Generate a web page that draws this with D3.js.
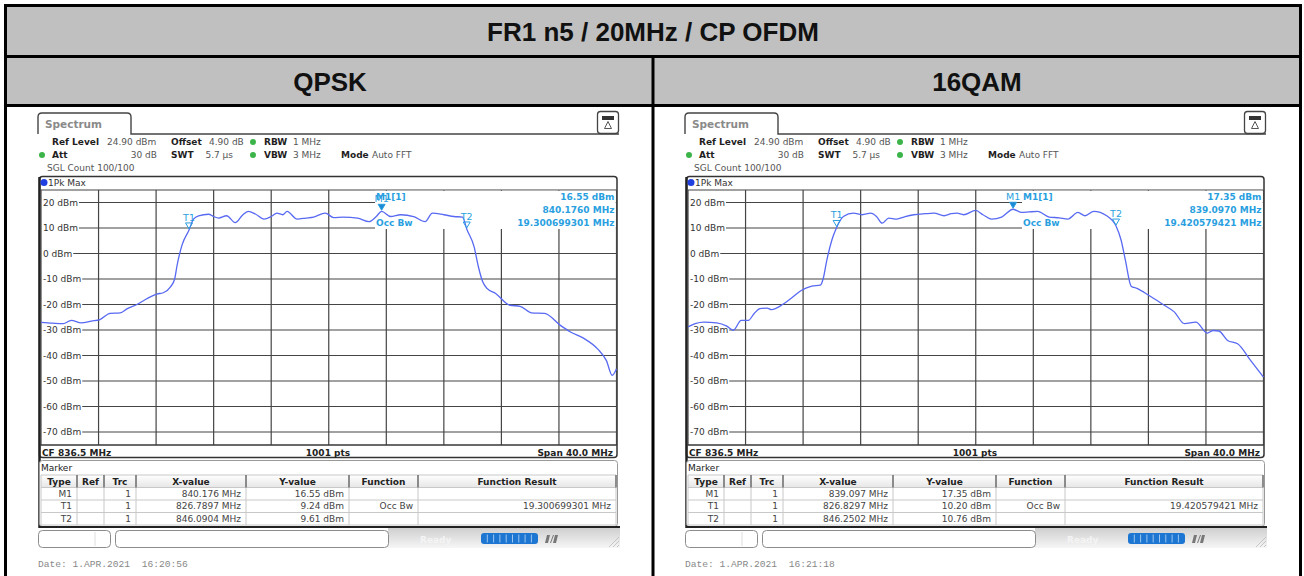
<!DOCTYPE html>
<html>
<head>
<meta charset="utf-8">
<script src="https://cdn.jsdelivr.net/npm/d3@7"></script>
<style>
body { margin: 0; background: #fff; }
svg { display: block; font-family: "DejaVu Sans", sans-serif; }
</style>
</head>
<body>
<script>
// ---- chart data ----
var title = "FR1 n5 / 20MHz / CP OFDM";
var panelNames = ["QPSK", "16QAM"];

var refLevel = 24.9;          // dBm, top of the grid
var centerFreq = 836.5;       // MHz
var spanFreq = 40.0;          // MHz
var yTicks = [20, 10, 0, -10, -20, -30, -40, -50, -60, -70];

// QPSK trace (MHz / dBm)
var freqQPSK = [816.5, 817.3, 818.05, 818.6, 819.3, 820.0, 820.6, 821.3, 822.0, 822.5,
    823.2, 823.9, 824.55, 825.0, 825.5, 825.8, 825.94, 826.3, 826.79, 827.1,
    827.45, 828.15, 828.5, 828.84, 829.4, 830.0, 830.5, 830.9, 831.4, 832.0,
    832.5, 832.9, 833.3, 833.6, 834.3, 834.9, 835.45, 836.26, 836.84, 837.5,
    838.5, 839.3, 839.8, 840.176, 840.8, 841.5, 842.4, 843.2, 843.7, 844.5,
    845.2, 845.8, 846.09, 846.6, 846.9, 847.2, 847.5, 848.1, 849.1, 849.8,
    850.6, 851.5, 852.6, 853.3, 854.2, 855.2, 855.8, 856.2, 856.5];
var levelQPSK = [-27.0, -27.3, -27.5, -26.2, -27.2, -26.5, -25.9, -23.5, -23.3, -21.6,
    -19.9, -17.6, -15.9, -15.4, -13.1, -9.8, -5.2, 3.3, 9.24, 13.5,
    14.8, 15.4, 14.5, 13.9, 14.8, 12.1, 15.0, 16.5, 15.5, 13.5,
    14.5, 15.8, 15.2, 16.5, 13.5, 13.9, 14.3, 15.8, 14.1, 14.3,
    13.9, 12.5, 14.5, 16.55, 14.5, 15.2, 14.5, 12.5, 15.8, 15.2,
    14.5, 14.3, 9.61, 2.7, -5.2, -11.1, -13.7, -15.7, -20.3, -20.7,
    -23.3, -23.5, -28.2, -30.8, -33.2, -37.5, -42.0, -47.8, -45.2];

// 16QAM trace (MHz / dBm)
var freq16QAM = [816.5, 817.0, 817.6, 818.5, 819.2, 819.65, 820.2, 820.7, 821.1, 821.5,
    822.0, 822.3, 823.1, 823.8, 824.4, 825.1, 825.7, 825.9, 826.15, 826.5,
    826.83, 827.3, 828.0, 828.6, 829.2, 829.6, 830.0, 830.45, 831.0, 831.6,
    832.2, 833.0, 833.6, 834.3, 834.8, 835.2, 835.65, 836.5, 837.0, 837.6,
    838.3, 839.097, 839.7, 840.2, 840.8, 841.6, 842.3, 842.9, 843.6, 844.1,
    844.7, 845.6, 846.25, 846.6, 846.9, 847.3, 847.7, 848.5, 849.6, 850.3,
    851.0, 851.8, 852.6, 853.0, 853.4, 854.0, 854.7, 855.6, 856.5];
var level16QAM = [-28.8, -27.5, -26.9, -27.2, -28.5, -30.1, -26.2, -26.2, -23.5, -21.6,
    -21.4, -22.0, -19.9, -17.0, -14.4, -12.8, -12.4, -9.8, -2.6, 5.3,
    10.2, 14.5, 15.8, 15.2, 15.8, 14.5, 11.9, 13.9, 13.5, 14.5,
    15.2, 15.6, 15.8, 14.8, 15.6, 15.8, 15.2, 16.9, 15.2, 13.5,
    14.3, 17.35, 16.1, 16.3, 16.5, 14.3, 14.0, 13.5, 16.1, 14.8,
    16.5, 14.8, 10.76, 5.3, -2.6, -12.8, -13.7, -16.3, -20.3, -22.9,
    -27.5, -26.9, -31.2, -30.2, -30.4, -34.1, -35.4, -41.9, -48.5];

// markers
var markerTypes = ["M1", "T1", "T2"];
var markerFreqQPSK = [840.176, 826.7897, 846.0904];
var markerLevelQPSK = [16.55, 9.24, 9.61];
var markerFreq16QAM = [839.097, 826.8297, 846.2502];
var markerLevel16QAM = [17.35, 10.20, 10.76];

// marker table text
var xValueQPSK = ["840.176 MHz", "826.7897 MHz", "846.0904 MHz"];
var yValueQPSK = ["16.55 dBm", "9.24 dBm", "9.61 dBm"];
var xValue16QAM = ["839.097 MHz", "826.8297 MHz", "846.2502 MHz"];
var yValue16QAM = ["17.35 dBm", "10.20 dBm", "10.76 dBm"];
var functionCol = ["", "Occ Bw", ""];
var occBw = ["19.300699301 MHz", "19.420579421 MHz"];
var m1Level = ["16.55 dBm", "17.35 dBm"];
var m1Freq = ["840.1760 MHz", "839.0970 MHz"];
var dates = ["Date: 1.APR.2021  16:20:56", "Date: 1.APR.2021  16:21:18"];
var tableHeads = ["Type", "Ref", "Trc", "X-value", "Y-value", "Function", "Function Result"];

var width = 1304;
var height = 576;
var blueM = "#2a9fe0";
var traceColor = "#5869f2";

var svg = d3.select("body")
    .append("svg")
    .attr("width", width)
    .attr("height", height);

svg.append("rect").attr("width", width).attr("height", height).attr("fill", "#fff");

var defs = svg.append("defs");
var grad = defs.append("linearGradient").attr("id", "sbGrad")
    .attr("x1", 0).attr("y1", 0).attr("x2", 0).attr("y2", 1);
grad.append("stop").attr("offset", "0%").attr("stop-color", "#cfcfcf");
grad.append("stop").attr("offset", "100%").attr("stop-color", "#f6f6f6");
var hgrad = defs.append("linearGradient").attr("id", "hdGrad")
    .attr("x1", 0).attr("y1", 0).attr("x2", 0).attr("y2", 1);
hgrad.append("stop").attr("offset", "0%").attr("stop-color", "#ffffff");
hgrad.append("stop").attr("offset", "100%").attr("stop-color", "#e6e6e6");

// ---- outer report table ----
svg.append("rect").attr("x", 7).attr("y", 7).attr("width", 1292).attr("height", 97)
    .attr("fill", "#c0c0c0");
var border = svg.append("g").attr("stroke", "#000").attr("stroke-width", 3);
border.append("line").attr("x1", 4).attr("x2", 1302).attr("y1", 5.5).attr("y2", 5.5);
border.append("line").attr("x1", 4).attr("x2", 1302).attr("y1", 56.5).attr("y2", 56.5);
border.append("line").attr("x1", 4).attr("x2", 1302).attr("y1", 105.5).attr("y2", 105.5);
border.append("line").attr("x1", 5.5).attr("x2", 5.5).attr("y1", 4).attr("y2", 580);
border.append("line").attr("x1", 1300.5).attr("x2", 1300.5).attr("y1", 4).attr("y2", 580);
border.append("line").attr("x1", 653).attr("x2", 653).attr("y1", 56).attr("y2", 580);

svg.append("text").attr("x", 653).attr("y", 41).attr("text-anchor", "middle")
    .style("font-family", "'Liberation Sans', Arial, sans-serif")
    .style("font-weight", "bold").style("font-size", "26px").attr("fill", "#111")
    .text(title);
svg.selectAll("text.pname")
    .data(panelNames)
    .enter()
    .append("text")
    .attr("class", "pname")
    .attr("x", function(d, i) { return i === 0 ? 330 : 977; })
    .attr("y", 90.5)
    .attr("text-anchor", "middle")
    .style("font-family", "'Liberation Sans', Arial, sans-serif")
    .style("font-weight", "bold").style("font-size", "26px").attr("fill", "#111")
    .text(function(d) { return d; });

// ---- one analyzer screenshot ----
function drawPanel(dx, p) {
    var g = svg.append("g").attr("transform", "translate(" + dx + ",0)");

    var x = d3.scaleLinear()
        .domain([centerFreq - spanFreq / 2, centerFreq + spanFreq / 2])
        .range([41, 616.5]);
    var y = d3.scaleLinear()
        .domain([refLevel - 100, refLevel])
        .range([445, 190]);

    // tab + header
    g.append("path")
        .attr("d", "M38,134 L38,117 Q38,113 42,113 L127,113 Q131,113 131,117 L131,134 L619,134")
        .attr("fill", "none").attr("stroke", "#444").attr("stroke-width", 1.4);
    g.append("text").attr("x", 45).attr("y", 128).style("font-size", "10.5px")
        .style("font-weight", "bold").attr("fill", "#8a8a8a").text("Spectrum");
    g.append("rect").attr("x", 597.5).attr("y", 111.5).attr("width", 21).attr("height", 22).attr("rx", 3)
        .attr("fill", "#fff").attr("stroke", "#444").attr("stroke-width", 1.3);
    g.append("rect").attr("x", 602).attr("y", 116).attr("width", 12).attr("height", 4).attr("fill", "#333");
    g.append("path").attr("d", "M608,121.5 L604.5,128.5 L611.5,128.5 Z")
        .attr("fill", "none").attr("stroke", "#555").attr("stroke-width", 1);

    var hdr = [
        {t: "Ref Level", x: 52, y: 145, b: true},
        {t: "24.90 dBm", x: 107, y: 145},
        {t: "Offset", x: 171, y: 145, b: true},
        {t: "4.90 dB", x: 209, y: 145},
        {t: "RBW", x: 264, y: 145, b: true},
        {t: "1 MHz", x: 293, y: 145},
        {t: "Att", x: 52, y: 158, b: true},
        {t: "30 dB", x: 157, y: 158, a: "end"},
        {t: "SWT", x: 171, y: 158, b: true},
        {t: "5.7 µs", x: 233, y: 158, a: "end"},
        {t: "VBW", x: 264, y: 158, b: true},
        {t: "3 MHz", x: 293, y: 158},
        {t: "Mode", x: 341, y: 158, b: true},
        {t: "Auto FFT", x: 372, y: 158},
        {t: "SGL Count 100/100", x: 47, y: 171}
    ];
    g.selectAll("text.hdr").data(hdr).enter().append("text")
        .attr("class", "hdr")
        .attr("x", function(d) { return d.x; })
        .attr("y", function(d) { return d.y; })
        .attr("text-anchor", function(d) { return d.a || "start"; })
        .style("font-size", "9px")
        .style("font-weight", function(d) { return d.b ? "bold" : "normal"; })
        .attr("fill", function(d) { return d.b ? "#1e1e1e" : "#555"; })
        .text(function(d) { return d.t; });
    g.selectAll("circle.led").data([[253, 142], [42, 155], [253, 155]]).enter().append("circle")
        .attr("class", "led")
        .attr("cx", function(d) { return d[0]; })
        .attr("cy", function(d) { return d[1]; })
        .attr("r", 3).attr("fill", "#3cb44a");

    // diagram frame
    g.append("rect").attr("x", 39.5).attr("y", 176.5).attr("width", 577.5).attr("height", 281)
        .attr("rx", 3).attr("fill", "#fff").attr("stroke", "#333").attr("stroke-width", 1.5);
    g.append("line").attr("x1", 39.5).attr("x2", 39.5).attr("y1", 177).attr("y2", 528)
        .attr("stroke", "#222").attr("stroke-width", 2.5);
    g.append("circle").attr("cx", 44).attr("cy", 182.5).attr("r", 3.5).attr("fill", "#1f3fe0");
    g.append("text").attr("x", 48).attr("y", 186).style("font-size", "9px").attr("fill", "#333").text("1Pk Max");

    // grid
    var grid = g.append("g").attr("stroke", "#454545").attr("stroke-width", 1.2);
    grid.selectAll("line.v")
        .data(d3.range(0, 11))
        .enter()
        .append("line")
        .attr("class", "v")
        .attr("x1", function(d) { return x(centerFreq - spanFreq / 2 + d * spanFreq / 10); })
        .attr("x2", function(d) { return x(centerFreq - spanFreq / 2 + d * spanFreq / 10); })
        .attr("y1", y(refLevel)).attr("y2", y(refLevel - 100));
    grid.selectAll("line.b")
        .data([refLevel, refLevel - 100])
        .enter()
        .append("line")
        .attr("class", "b")
        .attr("x1", x.range()[0]).attr("x2", x.range()[1])
        .attr("y1", function(d) { return y(d); })
        .attr("y2", function(d) { return y(d); });

    var tickLab = g.selectAll("text.ytick")
        .data(yTicks)
        .enter()
        .append("text")
        .attr("class", "ytick")
        .attr("x", 43)
        .attr("y", function(d) { return y(d) + 3.2; })
        .style("font-size", "9px")
        .attr("fill", "#333")
        .text(function(d) { return d + " dBm"; });
    tickLab.each(function(d) {
        var w = this.getComputedTextLength();
        grid.append("line")
            .attr("x1", 43 + w + 1).attr("x2", x.range()[1])
            .attr("y1", y(d)).attr("y2", y(d));
    });

    // marker info field
    var boxL = 375, boxR = 616.5;
    g.append("rect").attr("x", boxL).attr("y", y(refLevel) + 0.8)
        .attr("width", boxR - boxL - 0.8).attr("height", 38.2).attr("fill", "#fff");
    var info = g.append("g").style("font-size", "9px").style("font-weight", "bold").attr("fill", blueM);
    info.append("text").attr("x", boxL + 1).attr("y", 200).text("M1[1]");
    info.append("text").attr("x", boxL + 1).attr("y", 226).text("Occ Bw");
    info.append("text").attr("x", boxR - 2).attr("y", 200).attr("text-anchor", "end").text(m1Level[p.i]);
    info.append("text").attr("x", boxR - 2).attr("y", 213).attr("text-anchor", "end").text(m1Freq[p.i]);
    info.append("text").attr("x", boxR - 2).attr("y", 226).attr("text-anchor", "end").text(occBw[p.i]);

    // trace
    var line = d3.line()
        .x(function(d) { return x(d[0]); })
        .y(function(d) { return y(d[1]); })
        .curve(d3.curveMonotoneX);
    g.append("path")
        .datum(d3.zip(p.freq, p.level))
        .attr("d", line)
        .attr("fill", "none")
        .attr("stroke", traceColor)
        .attr("stroke-width", 1.3);

    // markers
    var mk = g.selectAll("g.mk")
        .data(markerTypes)
        .enter()
        .append("g")
        .attr("class", "mk")
        .attr("transform", function(d, i) {
            return "translate(" + x(p.mFreq[i]) + "," + (y(p.mLevel[i]) - 1) + ")";
        });
    mk.append("path")
        .attr("d", "M0,0 L-3.5,-6 L3.5,-6 Z")
        .attr("fill", function(d) { return d === "M1" ? "#1a8ad6" : "none"; })
        .attr("stroke", blueM).attr("stroke-width", 1);
    mk.append("text")
        .attr("y", -8)
        .attr("text-anchor", "middle")
        .style("font-size", "9.5px")
        .attr("fill", blueM)
        .text(function(d) { return d; });

    // bottom info line
    g.append("line").attr("x1", 40).attr("x2", 617).attr("y1", 445).attr("y2", 445)
        .attr("stroke", "#333").attr("stroke-width", 1.2);
    var foot = g.append("g").style("font-size", "9px").style("font-weight", "bold").attr("fill", "#222");
    foot.append("text").attr("x", 42).attr("y", 455.5).text("CF " + centerFreq.toFixed(1) + " MHz");
    foot.append("text").attr("x", 328).attr("y", 455.5).attr("text-anchor", "middle").text("1001 pts");
    foot.append("text").attr("x", 613).attr("y", 455.5).attr("text-anchor", "end")
        .text("Span " + spanFreq.toFixed(1) + " MHz");

    // marker table
    g.append("rect").attr("x", 39.5).attr("y", 460.5).attr("width", 578).attr("height", 66)
        .attr("rx", 3).attr("fill", "#fff").attr("stroke", "#999").attr("stroke-width", 1);
    g.append("line").attr("x1", 39).attr("x2", 620).attr("y1", 527).attr("y2", 527)
        .attr("stroke", "#222").attr("stroke-width", 2);
    g.append("text").attr("x", 41).attr("y", 470.5).style("font-size", "9px").attr("fill", "#222").text("Marker");

    var cols = [41, 77, 104, 136, 246, 349, 418, 616];
    var rowsY = [475, 487.5, 500, 512.5, 525];
    g.append("rect").attr("x", cols[0]).attr("y", rowsY[0]).attr("width", cols[7] - cols[0])
        .attr("height", rowsY[1] - rowsY[0]).attr("fill", "url(#hdGrad)");
    var tl = g.append("g").attr("stroke", "#c8c8c8").attr("stroke-width", 1);
    rowsY.forEach(function(ry) {
        tl.append("line").attr("x1", cols[0]).attr("x2", cols[7]).attr("y1", ry).attr("y2", ry);
    });
    cols.forEach(function(cx, k) {
        tl.append("line").attr("x1", cx).attr("x2", cx).attr("y1", rowsY[0]).attr("y2", rowsY[4]);
        if (k > 0) {
            g.append("line").attr("x1", cx).attr("x2", cx).attr("y1", rowsY[0]).attr("y2", rowsY[1])
                .attr("stroke", "#555").attr("stroke-width", 1.2);
        }
    });
    g.selectAll("text.th").data(tableHeads).enter().append("text")
        .attr("class", "th")
        .attr("x", function(d, i) { return (cols[i] + cols[i + 1]) / 2; })
        .attr("y", 484.5)
        .attr("text-anchor", "middle")
        .style("font-size", "9px").style("font-weight", "bold").attr("fill", "#222")
        .text(function(d) { return d; });
    var rows = markerTypes.map(function(t, i) {
        return [t, "", "1", p.xVal[i], p.yVal[i], functionCol[i], i === 1 ? occBw[p.i] : ""];
    });
    rows.forEach(function(r, ri) {
        g.selectAll("text.td" + ri).data(r).enter().append("text")
            .attr("class", "td" + ri)
            .attr("x", function(d, i) { return cols[i + 1] - 5; })
            .attr("y", rowsY[ri + 1] + 9.3)
            .attr("text-anchor", "end")
            .style("font-size", "9px").attr("fill", "#444")
            .text(function(d) { return d; });
    });

    // status bar
    g.append("rect").attr("x", 388).attr("y", 528).attr("width", 232).attr("height", 20).attr("fill", "url(#sbGrad)");
    g.append("rect").attr("x", 38.5).attr("y", 530.5).attr("width", 72).attr("height", 17).attr("rx", 4)
        .attr("fill", "#fff").attr("stroke", "#8c8c8c");
    g.append("line").attr("x1", 95).attr("x2", 95).attr("y1", 532).attr("y2", 546).attr("stroke", "#ddd");
    g.append("rect").attr("x", 115.5).attr("y", 530.5).attr("width", 273).attr("height", 17).attr("rx", 4)
        .attr("fill", "#fff").attr("stroke", "#8c8c8c");
    g.append("text").attr("x", 420).attr("y", 543).style("font-size", "9px").style("font-weight", "bold")
        .attr("fill", "#f4f4f4").text("Ready");
    g.append("rect").attr("x", 481).attr("y", 533).attr("width", 57).attr("height", 11).attr("rx", 3).attr("fill", "#1d76d2");
    g.selectAll("line.seg").data(d3.range(1, 9)).enter().append("line")
        .attr("class", "seg")
        .attr("x1", function(d) { return 481 + d * 6.3; })
        .attr("x2", function(d) { return 481 + d * 6.3; })
        .attr("y1", 534.5).attr("y2", 542.5)
        .attr("stroke", "#9cc6f0").attr("stroke-width", 1);
    g.append("path").attr("d", "M545,543 L547,535 L550,535 L548,543 Z M550,543 L553,535 L554,535 L551,543 Z M553,543 L555,535 L558,535 L556,543 Z")
        .attr("fill", "#777");
    g.selectAll("line.hatch").data([0, 4, 8]).enter().append("line")
        .attr("class", "hatch")
        .attr("x1", function(d) { return 609 + d; }).attr("y1", 547)
        .attr("x2", function(d) { return 619; }).attr("y2", function(d) { return 537 + d; })
        .attr("stroke", "#bbb").attr("stroke-width", 0.8);

    g.append("text").attr("x", 38).attr("y", 567)
        .style("font-family", "'Liberation Mono', 'DejaVu Sans Mono', monospace")
        .style("font-size", "9.6px").style("white-space", "pre")
        .attr("fill", "#888")
        .text(dates[p.i]);
}

drawPanel(0, {i: 0, freq: freqQPSK, level: levelQPSK, mFreq: markerFreqQPSK, mLevel: markerLevelQPSK,
    xVal: xValueQPSK, yVal: yValueQPSK});
drawPanel(647, {i: 1, freq: freq16QAM, level: level16QAM, mFreq: markerFreq16QAM, mLevel: markerLevel16QAM,
    xVal: xValue16QAM, yVal: yValue16QAM});
</script>
</body>
</html>
